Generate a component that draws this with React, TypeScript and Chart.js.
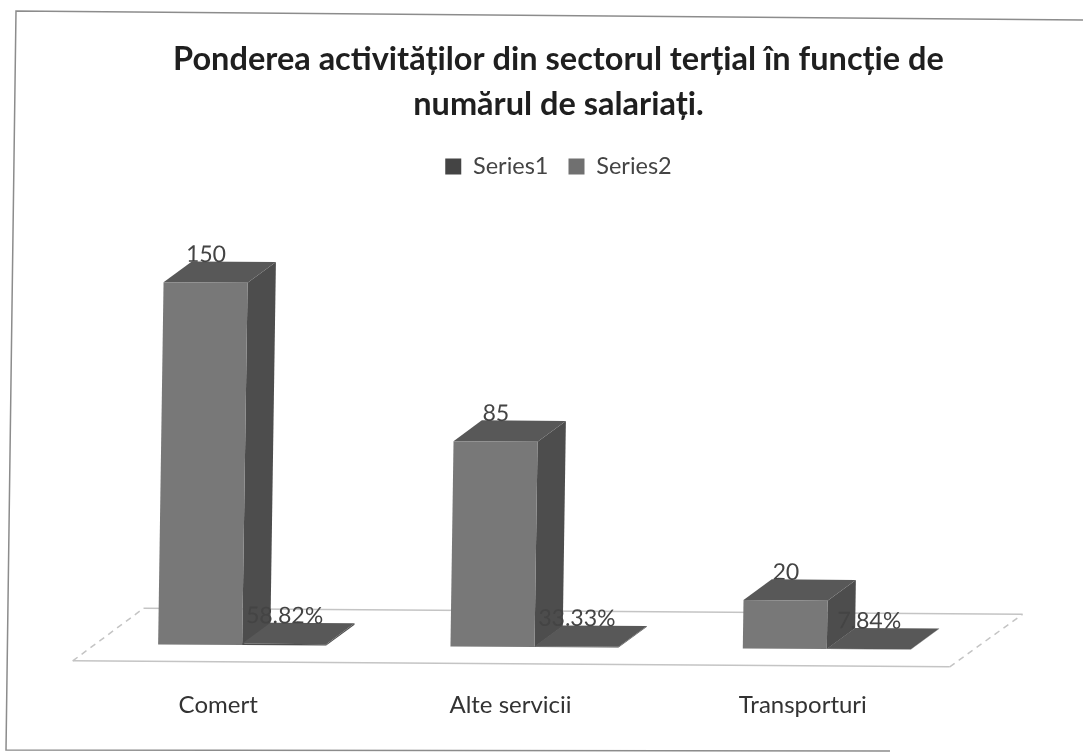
import React, { useEffect, useRef } from "react";
import { Chart, registerables } from "chart.js";

Chart.register(...registerables);

const categories = ["Comert", "Alte servicii", "Transporturi"];
const series1 = [150, 85, 20];
const series2 = [0.5882, 0.3333, 0.0784];
const titleLines = ["Ponderea activităților din sectorul terțial în funcție de", "numărul de salariați."];

const FONT = "Lato, 'Open Sans', sans-serif";
const DX = 28;
const DY = 21;
const SLOPE = 0.0068;
const LEAN = 0.015;

const faces: any = { front: "#787878", side: "#4d4d4d", top: "#585858" };

const formatLabel = (ds: number, v: number) => (ds === 0 ? String(v) : (v * 100).toFixed(2) + "%");

function applySkew(ctx: CanvasRenderingContext2D, chart: any) {
  const y0 = chart.chartArea.bottom;
  const x0 = (chart.chartArea.left + chart.chartArea.right) / 2;
  ctx.transform(1, SLOPE, -LEAN, 1, LEAN * y0, -SLOPE * x0);
}

function poly(ctx: CanvasRenderingContext2D, pts: number[][], fill: string) {
  ctx.beginPath();
  pts.forEach((p, i) => (i ? ctx.lineTo(p[0], p[1]) : ctx.moveTo(p[0], p[1])));
  ctx.closePath();
  ctx.fillStyle = fill;
  ctx.fill();
}

const bar3d = {
  id: "bar3d",
  beforeDraw(chart: any) {
    const { ctx, width, height } = chart;
    ctx.save();
    ctx.fillStyle = "#ffffff";
    ctx.fillRect(0, 0, width, height);
    ctx.strokeStyle = "#8c8c8c";
    ctx.lineWidth = 1.5;
    ctx.beginPath();
    ctx.moveTo(width, 20);
    ctx.lineTo(16, 11);
    ctx.lineTo(6, height - 3);
    ctx.lineTo(890, height - 2);
    ctx.stroke();
    ctx.restore();
  },
  beforeDatasetsDraw(chart: any) {
    const { ctx, chartArea } = chart;
    const { left, right, bottom: b } = chartArea;
    ctx.save();
    applySkew(ctx, chart);
    ctx.strokeStyle = "#c4c4c4";
    ctx.lineWidth = 1.5;
    ctx.beginPath();
    ctx.moveTo(left - 23, b + 17);
    ctx.lineTo(right - 23, b + 17);
    ctx.moveTo(left + 47, b - 36);
    ctx.lineTo(right + 49, b - 36);
    ctx.stroke();
    ctx.setLineDash([6, 5]);
    ctx.beginPath();
    ctx.moveTo(left - 23, b + 17);
    ctx.lineTo(left + 47, b - 36);
    ctx.moveTo(right - 23, b + 17);
    ctx.lineTo(right + 49, b - 36);
    ctx.stroke();
    ctx.setLineDash([]);
    chart.data.datasets.forEach((_: any, di: number) => {
      chart.getDatasetMeta(di).data.forEach((el: any) => {
        const l = el.x - el.width / 2;
        const r = el.x + el.width / 2;
        const t = el.y;
        const base = el.base;
        poly(ctx, [[r, base], [r + DX, base - DY], [r + DX, t - DY], [r, t]], faces.side);
        poly(ctx, [[l, t], [l + DX, t - DY], [r + DX, t - DY], [r, t]], faces.top);
      });
    });
  },
  afterDatasetsDraw(chart: any) {
    const { ctx } = chart;
    ctx.restore();
    ctx.save();
    applySkew(ctx, chart);
    ctx.font = `23px ${FONT}`;
    ctx.fillStyle = "#444444";
    ctx.textAlign = "center";
    ctx.textBaseline = "middle";
    chart.data.datasets.forEach((ds: any, di: number) => {
      chart.getDatasetMeta(di).data.forEach((el: any, i: number) => {
        ctx.fillText(formatLabel(di, ds.data[i]), el.x, el.y - 28);
      });
    });
    ctx.restore();
  },
};

export default function App() {
  const ref = useRef<HTMLCanvasElement>(null);
  useEffect(() => {
    const chart = new Chart(ref.current as HTMLCanvasElement, {
      type: "bar",
      data: {
        labels: categories,
        datasets: [
          { label: "Series1", data: series1, backgroundColor: faces.front, clip: false } as any,
          { label: "Series2", data: series2, backgroundColor: faces.side, clip: false } as any,
        ],
      },
      plugins: [bar3d],
      options: {
        animation: false,
        responsive: false,
        layout: { padding: { left: 34, right: 0, top: 0, bottom: 0 } },
        datasets: { bar: { categoryPercentage: 0.575, barPercentage: 1 } },
        plugins: {
          tooltip: { enabled: false },
          title: {
            display: true,
            text: titleLines,
            color: "#1f1f1f",
            font: { family: FONT, size: 32.5, weight: "bold", lineHeight: 1.38 },
            padding: { top: 37, bottom: 8 },
          },
          legend: {
            display: true,
            position: "top",
            labels: {
              color: "#444444",
              font: { family: FONT, size: 23.5 },
              boxWidth: 16,
              boxHeight: 16,
              padding: 20,
              generateLabels: (c: any) =>
                Chart.defaults.plugins.legend.labels.generateLabels(c).map((it: any, i: number) => ({
                  ...it,
                  fillStyle: i === 0 ? "#444444" : "#707070",
                  strokeStyle: "transparent",
                  lineWidth: 0,
                })),
            },
          },
        },
        scales: {
          x: {
            grid: { display: false, drawTicks: false },
            border: { display: false },
            ticks: {
              color: "#333333",
              font: { family: FONT, size: 24 },
              padding: 44,
              labelOffset: -24,
              maxRotation: 0,
              autoSkip: false,
            },
            afterFit: (s: any) => {
              s.height = 106;
            },
          },
          y: {
            min: 0,
            max: 190,
            grid: { display: false },
            border: { display: false },
            ticks: { display: false },
            afterFit: (s: any) => {
              s.width = 62;
            },
          },
          y2: {
            position: "right",
            min: 0,
            max: 1,
            grid: { display: false },
            border: { display: false },
            ticks: { display: false },
            afterFit: (s: any) => {
              s.width = 110;
            },
          },
        },
      } as any,
    });
    return () => chart.destroy();
  }, []);
  return (
    <div style={{ position: "fixed", left: 0, top: 0, width: 1083, height: 753, background: "#fff" }}>
      <canvas ref={ref} width={1083} height={753} style={{ display: "block" }} />
    </div>
  );
}
